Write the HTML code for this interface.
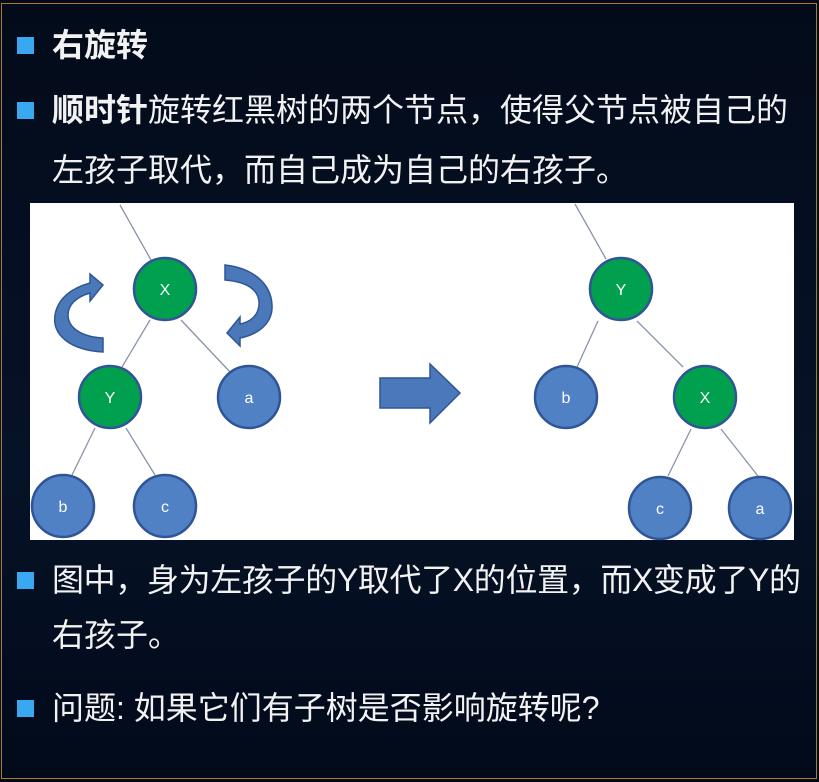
<!DOCTYPE html>
<html><head><meta charset="utf-8"><style>
html,body{margin:0;padding:0}
body{width:819px;height:782px;overflow:hidden;background:linear-gradient(#030b1a,#061227 60%,#020a1a);position:relative;font-family:"Liberation Sans","Noto Sans CJK SC",sans-serif;color:#f2f2f2}
.frame{position:absolute;left:1px;top:3px;width:816px;height:776px;border:1px solid #b07a1e;box-sizing:border-box}
.b{position:absolute;left:17px;width:17px;height:17px;background:#3aa8f0}
.t{position:absolute;left:52px;font-size:32px;line-height:40px;white-space:nowrap}
.panel{position:absolute;left:30px;top:203px;width:764px;height:337px;background:#fff}
</style></head><body>
<div class="frame"></div>
<div class="b" style="top:37px"></div><div class="t" style="top:25px;font-weight:bold">右旋转</div>
<div class="b" style="top:102px"></div><div class="t" style="top:90px"><b>顺时针</b>旋转红黑树的两个节点，使得父节点被自己的</div>
<div class="t" style="top:150px">左孩子取代，而自己成为自己的右孩子。</div>
<div class="panel"></div>
<svg style="position:absolute;left:0;top:0" width="819" height="782">
<g stroke="#8a93a8" stroke-width="1.3">
<line x1="120" y1="205" x2="151" y2="260"/><line x1="150" y1="320" x2="122" y2="367"/><line x1="181" y1="320" x2="230" y2="372"/>
<line x1="95" y1="428" x2="72" y2="475"/><line x1="126" y1="428" x2="155" y2="475"/>
<line x1="575" y1="204" x2="606" y2="259"/><line x1="598" y1="321" x2="577" y2="367"/><line x1="637" y1="321" x2="683" y2="367"/>
<line x1="691" y1="429" x2="668" y2="476"/><line x1="721" y1="429" x2="758" y2="476"/>
</g>
<g stroke="#2f5597" stroke-width="2.5">
<circle cx="165" cy="289" r="31" fill="#00a04e"/><circle cx="110" cy="397" r="31" fill="#00a04e"/>
<circle cx="249" cy="397" r="31" fill="#4f81c4"/><circle cx="63" cy="506" r="31" fill="#4f81c4"/><circle cx="165" cy="506" r="31" fill="#4f81c4"/>
<circle cx="621" cy="289" r="31" fill="#00a04e"/><circle cx="705" cy="397" r="31" fill="#00a04e"/>
<circle cx="566" cy="397" r="31" fill="#4f81c4"/><circle cx="660" cy="508" r="31" fill="#4f81c4"/><circle cx="760" cy="508" r="31" fill="#4f81c4"/>
</g>
<g fill="#fff" font-family="Liberation Sans,sans-serif" font-size="16" text-anchor="middle">
<text x="165" y="295">X</text><text x="110" y="403">Y</text><text x="249" y="403">a</text><text x="63" y="512">b</text><text x="165" y="512">c</text>
<text x="621" y="295">Y</text><text x="705" y="403">X</text><text x="566" y="403">b</text><text x="660" y="514">c</text><text x="760" y="514">a</text>
</g>
<g fill="#4a78b8" stroke="#2f5597" stroke-width="1.5">
<path d="M380,378 L430,378 L430,364 L460,393 L430,423 L430,408 L380,408 Z"/>
<path d="M103,338 L103,352 C70,350 52,335 55,315 C58,298 72,288 90,283 L90,274 L103,285 L90,301 L90,293 C76,297 68,305 68,315 C68,328 82,337 103,338 Z"/>
<path d="M225,265 L225,280 C250,282 260,292 259,305 C258,316 250,322 240,324 L240,317 L227,333 L240,346 L240,338 C260,334 273,322 272,305 C271,283 252,268 225,265 Z"/>
</g>
</svg>
<div class="b" style="top:572px"></div><div class="t" style="top:560px;letter-spacing:-0.35px">图中，身为左孩子的Y取代了X的位置，而X变成了Y的</div>
<div class="t" style="top:615px">右孩子。</div>
<div class="b" style="top:700px"></div><div class="t" style="top:688px">问题: 如果它们有子树是否影响旋转呢?</div>
</body></html>
